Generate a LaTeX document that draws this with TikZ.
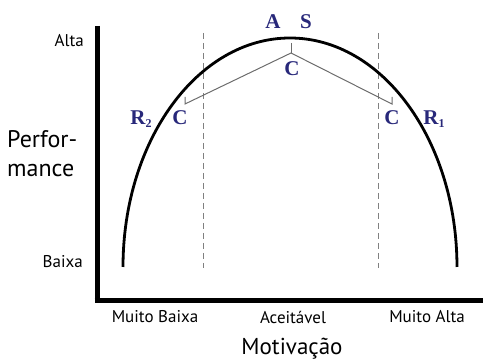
\documentclass[tikz,border=0pt]{standalone}
\usepackage{fontspec}
\setmainfont{PT Sans}
\newfontfamily\lblfont{Liberation Serif}
\definecolor{navy}{HTML}{28287A}
\newcommand{\subtxt}[1]{\raisebox{-3pt}{\fontsize{12}{12}\selectfont #1}}
\begin{document}
\begin{tikzpicture}[x=1pt,y=1pt,
  axis/.style={line width=5pt},
  curve/.style={line width=2.8pt},
  guide/.style={gray, line width=0.9pt, dash pattern=on 6pt off 4pt},
  poly/.style={gray!85!black, line width=1pt},
  small/.style={font=\fontsize{17}{20}\selectfont, inner sep=0pt},
  big/.style={font=\fontsize{24}{29}\selectfont, inner sep=0pt},
  lab/.style={font=\lblfont\bfseries\fontsize{21}{22}\selectfont, text=navy, inner sep=0pt}]
\useasboundingbox (0,0) rectangle (483,361);
% axes
\coordinate (ytop) at (97,335);
\coordinate (xend) at (483,60);
\draw[axis] (ytop) -- (97,57.5) (94.5,60) -- (xend);
% guides
\coordinate (g1t) at (203,328); \coordinate (g1b) at (203,93);
\coordinate (g2t) at (378,328); \coordinate (g2b) at (378,93);
\draw[guide] (g1t) -- (g1b);
\draw[guide] (g2t) -- (g2b);
% curve
\coordinate (cstart) at (123,94);
\draw[curve] (cstart) arc[start angle=180, end angle=0, x radius=167, y radius=229];
% polyline
\coordinate (pl) at (185,257);
\coordinate (pt) at (291,308);
\coordinate (pr) at (392,257);
\draw[poly] (185,264) -- (pl) -- (pt) -- (pr) -- (392,264);
\draw[poly] (291,318) -- (pt);
% labels
\node[small, anchor=east] (alta) at (84,320) {Alta};
\node[small, anchor=east] (baixa) at (83,99) {Baixa};
\node[big, anchor=west, align=left] (perf) at (7,207) {Perfor-\\mance};
\node[small] (mb) at (155,44) {Muito Baixa};
\node[small] (ac) at (293,44) {Aceitável};
\node[small] (ma) at (427,44) {Muito Alta};
\node[font=\fontsize{23}{27}\selectfont, inner sep=0pt, anchor=base] (mot) at (292,6) {Motivação};
\node[lab] (A) at (273,339) {A};
\node[lab] (S) at (306,339) {S};
\node[lab] (Ct) at (292,292) {C};
\node[lab] (Cl) at (180,243) {C};
\node[lab] (Cr) at (392,243) {C};
\node[lab] (R2) at (141,242) {R\subtxt{2}};
\node[lab] (R1) at (434,242) {R\subtxt{1}};
\end{tikzpicture}
\end{document}
